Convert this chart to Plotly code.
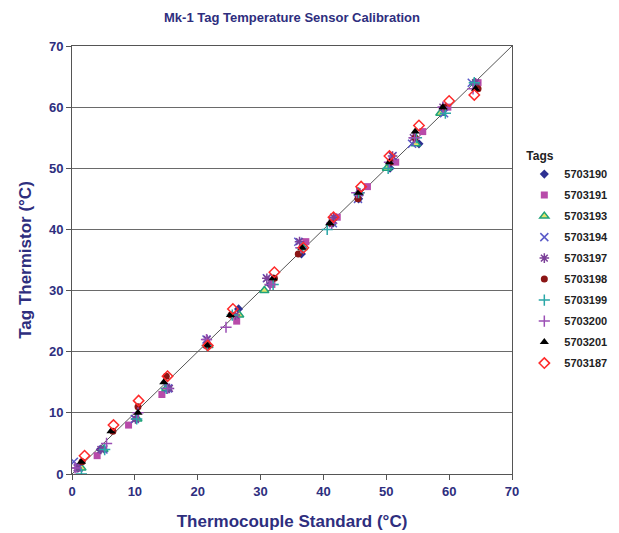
import plotly.graph_objects as go

title_text = "Mk-1 Tag Temperature Sensor Calibration"
x_title = "Thermocouple Standard (°C)"
y_title = "Tag Thermistor (°C)"
tick_vals = [0, 10, 20, 30, 40, 50, 60, 70]
diag = [0, 70]

tags = ["5703190", "5703191", "5703193", "5703194", "5703197",
        "5703198", "5703199", "5703200", "5703201", "5703187"]

x_5703190 = [1.0, 4.5, 10.2, 15.3, 21.6, 26.5, 31.5, 36.5, 41.5, 45.6, 50.6, 55.2, 59.5, 64.2]
y_5703190 = [1, 4, 9, 14, 21, 27, 31, 36, 41, 45, 50, 54, 60, 64]
x_5703191 = [1.2, 4.0, 9.0, 14.3, 21.5, 26.2, 31.8, 37.2, 42.2, 47.0, 51.5, 55.8, 59.8, 64.6]
y_5703191 = [1, 3, 8, 13, 21, 25, 31, 38, 42, 47, 51, 56, 60, 64]
x_5703193 = [1.5, 5.0, 10.4, 15.0, 21.7, 26.6, 30.6, 36.7, 41.2, 45.6, 50.1, 54.7, 58.6, 64.0]
y_5703193 = [1, 4, 9, 14, 21, 26, 30, 37, 41, 46, 50, 54, 59, 64]
x_5703194 = [0.3, 1.0, 5.0, 10.0, 15.3, 21.4, 31.0, 36.0, 41.5, 45.5, 51.0, 54.1, 59.2, 63.6]
y_5703194 = [2, 1, 4, 9, 14, 22, 32, 38, 41, 45, 52, 54, 59, 64]
x_5703197 = [0.8, 4.6, 10.1, 15.5, 21.5, 26.0, 31.0, 36.2, 41.6, 45.8, 51.0, 54.3, 59.0, 64.2]
y_5703197 = [1, 4, 9, 14, 22, 26, 32, 38, 42, 46, 52, 55, 60, 64]
x_5703198 = [1.6, 6.5, 10.5, 15.0, 21.6, 25.3, 32.2, 36.0, 41.2, 45.5, 50.6, 54.6, 59.2, 64.6]
y_5703198 = [2, 7, 11, 16, 21, 26, 32, 36, 41, 45, 51, 55, 60, 63]
x_5703199 = [1.5, 5.2, 10.3, 15.0, 21.5, 25.5, 32.0, 36.5, 40.6, 45.6, 50.3, 54.8, 59.4, 64.0]
y_5703199 = [0, 4, 9, 14, 21, 26, 31, 37, 40, 46, 50, 55, 59, 64]
x_5703200 = [0.5, 5.5, 10.5, 15.2, 21.4, 24.5, 31.5, 36.4, 41.3, 45.3, 50.5, 54.5, 59.0, 63.8]
y_5703200 = [1, 5, 10, 14, 22, 24, 31, 37, 41, 46, 51, 55, 60, 63]
x_5703201 = [1.5, 6.2, 10.5, 14.6, 21.5, 25.2, 32.0, 36.6, 41.0, 45.6, 50.5, 54.6, 59.0, 64.2]
y_5703201 = [2, 7, 10, 15, 21, 26, 32, 37, 41, 46, 51, 56, 60, 63]
x_5703187 = [2.0, 6.6, 10.6, 15.2, 21.6, 25.6, 32.2, 36.8, 41.6, 46.0, 50.5, 55.2, 60.0, 64.0]
y_5703187 = [3, 8, 12, 16, 21, 27, 33, 37, 42, 47, 52, 57, 61, 62]

series = [
    (x_5703190, y_5703190, dict(symbol="diamond", color="#2E3192", size=7)),
    (x_5703191, y_5703191, dict(symbol="square", color="#B84BAA", size=7)),
    (x_5703193, y_5703193, dict(symbol="triangle-up", color="#E3E36A", size=8, line=dict(color="#1FA37A", width=1.5))),
    (x_5703194, y_5703194, dict(symbol="x-thin-open", color="#5A5AC8", size=8, line=dict(color="#5A5AC8", width=1.5))),
    (x_5703197, y_5703197, dict(symbol="asterisk-open", color="#7B3F98", size=8, line=dict(color="#7B3F98", width=1.5))),
    (x_5703198, y_5703198, dict(symbol="circle", color="#8B1515", size=7)),
    (x_5703199, y_5703199, dict(symbol="cross-thin-open", color="#2AA7A7", size=8, line=dict(color="#2AA7A7", width=1.5))),
    (x_5703200, y_5703200, dict(symbol="cross-thin-open", color="#9B4FB5", size=8, line=dict(color="#9B4FB5", width=1.5))),
    (x_5703201, y_5703201, dict(symbol="triangle-up", color="#000000", size=8)),
    (x_5703187, y_5703187, dict(symbol="diamond-open", color="#FF2A2A", size=8, line=dict(color="#FF2A2A", width=1.5))),
]

navy = "#2E2E7E"
fam = "Liberation Sans, Arial, sans-serif"
W, H = 603, 525
fig = go.Figure()
fig.add_trace(go.Scatter(x=diag, y=diag, mode="lines", line=dict(color="#555555", width=1),
                         showlegend=False, hoverinfo="skip"))
for name, (xs, ys, mk) in zip(tags, series):
    fig.add_trace(go.Scatter(x=xs, y=ys, mode="markers", name=name,
                             legendgroup=name, marker=mk))

tick_text = ["<b>%d</b>" % v for v in tick_vals]

fig.update_layout(
    width=W, height=H,
    margin=dict(l=64, r=W - 504, t=38, b=H - 466, autoexpand=False),
    paper_bgcolor="white", plot_bgcolor="white",
    font=dict(family=fam, color=navy),
    title=dict(text="<b>" + title_text + "</b>", x=(64 + 504) / 2 / W, xanchor="center",
               xref="container", y=1 - 9 / H, yanchor="middle", font=dict(size=13, color=navy)),
    xaxis=dict(range=[0, 70], tickvals=tick_vals, ticktext=tick_text, ticks="outside", ticklen=5,
               tickcolor="#555555", automargin=False,
               showline=True, linecolor="#555555", linewidth=1, mirror=True, showgrid=False, zeroline=False,
               tickfont=dict(size=13, color=navy, family=fam),
               title=dict(text="<b>" + x_title + "</b>", font=dict(size=17, color=navy), standoff=17)),
    yaxis=dict(range=[0, 70], tickvals=tick_vals, ticktext=tick_text, ticks="outside", ticklen=5,
               tickcolor="#555555", automargin=False,
               showline=True, linecolor="#555555", linewidth=1, mirror=True,
               showgrid=True, gridcolor="#6A6A6A", gridwidth=1, zeroline=False,
               tickfont=dict(size=13, color=navy, family=fam),
               title=dict(text="<b>" + y_title + "</b>", font=dict(size=17, color=navy), standoff=12)),
    legend=dict(title=dict(text="Tags", font=dict(size=12, color="#222222", weight="bold"), side="top"),
                x=1.028, y=0.771, xanchor="left", yanchor="top",
                font=dict(size=11, color="#222222", family=fam, weight="bold"),
                itemwidth=30, tracegroupgap=2, bgcolor="rgba(0,0,0,0)"),
)
fig.write_html("out.html")
